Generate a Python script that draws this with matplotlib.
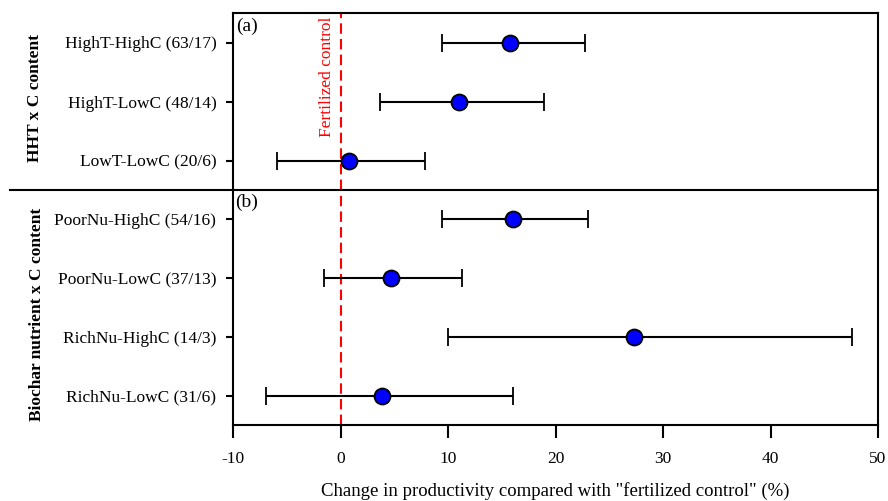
import matplotlib
matplotlib.use('Agg')
import matplotlib.pyplot as plt
from matplotlib.lines import Line2D
import matplotlib.transforms as mtransforms
import numpy as np

plt.rcParams['font.family'] = ['Liberation Serif', 'DejaVu Serif']

# panel (a): HHT x C content
hht_labels = ['HighT-HighC (63/17)', 'HighT-LowC (48/14)', 'LowT-LowC (20/6)']
hht_mean = [15.8, 11.0, 0.75]
hht_low = [9.4, 3.7, -5.9]
hht_high = [22.7, 18.9, 7.9]

# panel (b): biochar nutrient x C content
nu_labels = ['PoorNu-HighC (54/16)', 'PoorNu-LowC (37/13)',
             'RichNu-HighC (14/3)', 'RichNu-LowC (31/6)']
nu_mean = [16.0, 4.7, 27.3, 3.9]
nu_low = [9.4, -1.5, 10.0, -6.9]
nu_high = [23.0, 11.3, 47.6, 16.0]

xticks = [-10, 0, 10, 20, 30, 40, 50]

W, H = 888, 501
fig = plt.figure(figsize=(W / 100, H / 100), dpi=100)

left, right = 233 / W, 878 / W
y_top, y_mid, y_bot = 1 - 13 / H, 1 - 190 / H, 1 - 425 / H
ax_a = fig.add_axes([left, y_mid, right - left, y_top - y_mid])
ax_b = fig.add_axes([left, y_bot, right - left, y_mid - y_bot])

lw = 1.5


def draw_panel(ax, labels, mean, low, high):
    mean = np.asarray(mean)
    pos = np.arange(len(labels))
    err = [mean - np.asarray(low), np.asarray(high) - mean]
    ax.errorbar(mean, pos, xerr=err, fmt='o', color='k', ecolor='k',
                elinewidth=lw, capsize=6.5, capthick=lw,
                markersize=11.5, markerfacecolor='#0000ff',
                markeredgecolor='k', markeredgewidth=1.3, zorder=3)
    ax.axvline(0, color='#ff0000', lw=1.5, ls=(0, (5, 2.5)), zorder=2)
    ax.set_yticks(pos)
    ax.set_yticklabels(labels, fontsize=12.5)
    ax.set_ylim(len(labels) - 0.5, -0.5)
    ax.set_xlim(-10, 50)
    ax.tick_params(axis='y', direction='out', length=5, width=lw, pad=7)
    for s in ax.spines.values():
        s.set_linewidth(lw)


draw_panel(ax_a, hht_labels, hht_mean, hht_low, hht_high)
draw_panel(ax_b, nu_labels, nu_mean, nu_low, nu_high)

ax_a.tick_params(axis='x', bottom=False, labelbottom=False)
ax_a.spines['bottom'].set_visible(False)
ax_b.spines['top'].set_visible(False)
ax_b.set_xticks(xticks)
ax_b.set_xticklabels([str(t) for t in xticks], fontsize=12.5)
ax_b.tick_params(axis='x', direction='out', length=9.4, width=lw, pad=9)
ax_b.set_xlabel('Change in productivity compared with "fertilized control" (%)',
                fontsize=13.5, labelpad=11)

# separator line across the label area
fig.add_artist(Line2D([10 / W, right], [y_mid, y_mid], transform=fig.transFigure,
                      color='k', lw=lw))

ax_a.text(0.005, 0.975, '(a)', transform=ax_a.transAxes, ha='left', va='top',
          fontsize=14)
ax_b.text(0.004, 0.985, '(b)', transform=ax_b.transAxes, ha='left', va='top',
          fontsize=14)

trans = mtransforms.blended_transform_factory(ax_a.transData, ax_a.transAxes)
ax_a.text(-1.3, 0.98, 'Fertilized control', transform=trans, rotation=90,
          ha='center', va='top', color='#ff0000', fontsize=12.5)

fig.text(35 / W, 1 - 98 / H, 'HHT x C content', rotation=90,
         ha='center', va='center', fontweight='bold', fontsize=12.5)
fig.text(37 / W, 1 - 314 / H, 'Biochar nutrient x C content', rotation=90,
         ha='center', va='center', fontweight='bold', fontsize=12.5)

fig.savefig('out.png', dpi=100)
plt.close(fig)
